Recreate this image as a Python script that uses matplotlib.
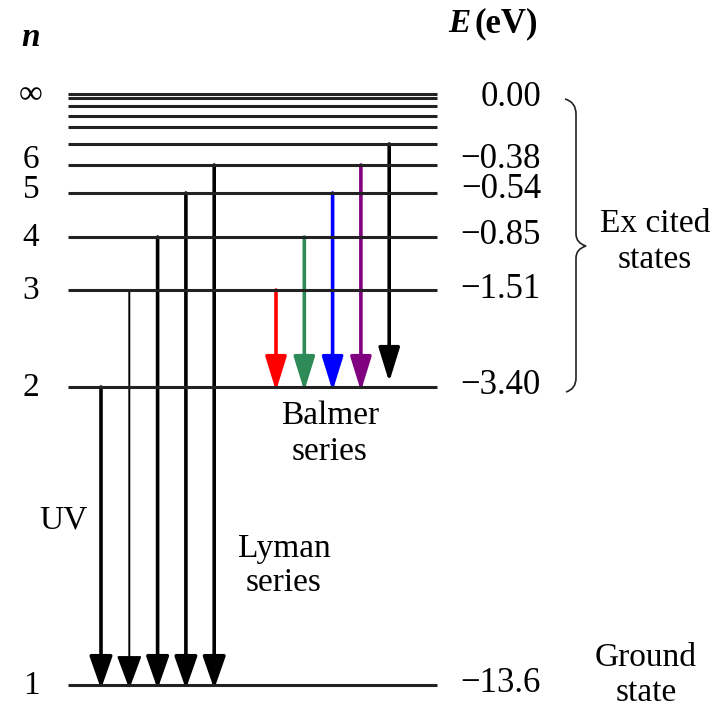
import numpy as np
import matplotlib.pyplot as plt
from matplotlib.patches import FancyArrowPatch, PathPatch
from matplotlib.path import Path

# energy levels of hydrogen (labelled ones)
n_labels = ["\u221e", "6", "5", "4", "3", "2", "1"]
n_values = [np.inf, 6, 5, 4, 3, 2, 1]
energies = ["0.00", "\u22120.38", "\u22120.54", "\u22120.85", "\u22121.51", "\u22123.40", "\u221213.6"]

# unlabelled levels crowding towards n = infinity
extra_levels = [11, 10, 9, 8, 7]

# transitions (upper level -> lower level)
lyman_upper = [2, 3, 4, 5, 6]
balmer_upper = [3, 4, 5, 6, 7]
balmer_colors = ["#ff0000", "#2e8b57", "#0000ff", "#800080", "#000000"]

# schematic (not to scale) height of each level in the drawing
level_height = {np.inf: 94, 11: 98, 10: 106, 9: 116, 8: 127, 7: 144,
                6: 165, 5: 193, 4: 237, 3: 290, 2: 387, 1: 685}

plt.rcParams["font.family"] = ["Liberation Serif", "DejaVu Serif"]

fig = plt.figure(figsize=(7.19, 7.10), dpi=100)
ax = fig.add_axes([0, 0, 1, 1])
ax.set_xlim(0, 719)
ax.set_ylim(710, 0)
ax.axis("off")

# level lines
all_levels = list(n_values) + extra_levels
for n in all_levels:
    ax.hlines(level_height[n], 68, 437, color="#222222", lw=2.2)

# arrows
def arrow(x, n_from, n_to, color="black", lw=2.6, tip_gap=0, head=(2.0, 0.7)):
    a = FancyArrowPatch((x, level_height[n_from]), (x, level_height[n_to] + 4 - tip_gap),
                        arrowstyle="-|>,head_length=%g,head_width=%g" % head,
                        mutation_scale=10, lw=lw, color=color,
                        shrinkA=0, shrinkB=0)
    ax.add_patch(a)

for i, n in enumerate(lyman_upper):
    if n == 3:
        arrow(101 + 28.3 * i, n, 1, lw=1.4, head=(2.1, 0.78))
    else:
        arrow(101 + 28.3 * i, n, 1)

for i, (n, c) in enumerate(zip(balmer_upper, balmer_colors)):
    arrow(276 + 28.3 * i, n, 2, color=c, lw=2.6,
          tip_gap=9 if n == 7 else 0, head=(2.1, 0.65))

# n labels and energies
fs = 24
label_shift = {"6": -5, "5": -3}
value_shift = {"0.00": 4}
for lab, n, e in zip(n_labels, n_values, energies):
    y = level_height[n]
    ax.text(31, y + label_shift.get(lab, 1), lab, fontsize=fs, ha="center", va="center")
    ax.text(541, y + label_shift.get(lab, 0) + value_shift.get(e, 0) - 1, e,
            fontsize=fs + 1, ha="right", va="center")

# headers
ax.text(31, 37, "n", fontsize=fs, ha="center", va="center",
        fontweight="bold", fontstyle="italic")
ax.text(448, 24, "E", fontsize=fs, ha="left", va="center",
        fontweight="bold", fontstyle="italic")
ax.text(538, 24, "(eV)", fontsize=fs + 1, ha="right", va="center", fontweight="bold")

# descriptive labels
ax.text(655, 242, "Ex cited\nstates", fontsize=fs, ha="center", va="center", linespacing=1.25)
ax.text(646, 675, "Ground\nstate", fontsize=fs, ha="center", va="center", linespacing=1.2)
ax.text(330, 434, "Balmer\nseries", fontsize=fs, ha="center", va="center", linespacing=1.25)
ax.text(284, 566, "Lyman\nseries", fontsize=fs, ha="center", va="center", linespacing=1.15)
ax.text(63, 520, "UV", fontsize=fs, ha="center", va="center")

# curly brace for excited states
verts = [(565, 99), (576, 102), (576, 114),
         (576, 234),
         (576, 243), (586, 246),
         (576, 249), (576, 258),
         (576, 378), (576, 389), (566, 392)]
codes = [Path.MOVETO, Path.CURVE3, Path.CURVE3,
         Path.LINETO,
         Path.CURVE3, Path.CURVE3,
         Path.CURVE3, Path.CURVE3,
         Path.LINETO, Path.CURVE3, Path.CURVE3]
ax.add_patch(PathPatch(Path(verts, codes), fill=False, lw=1.2, color="#222222"))

fig.savefig("out.png", dpi=100)
